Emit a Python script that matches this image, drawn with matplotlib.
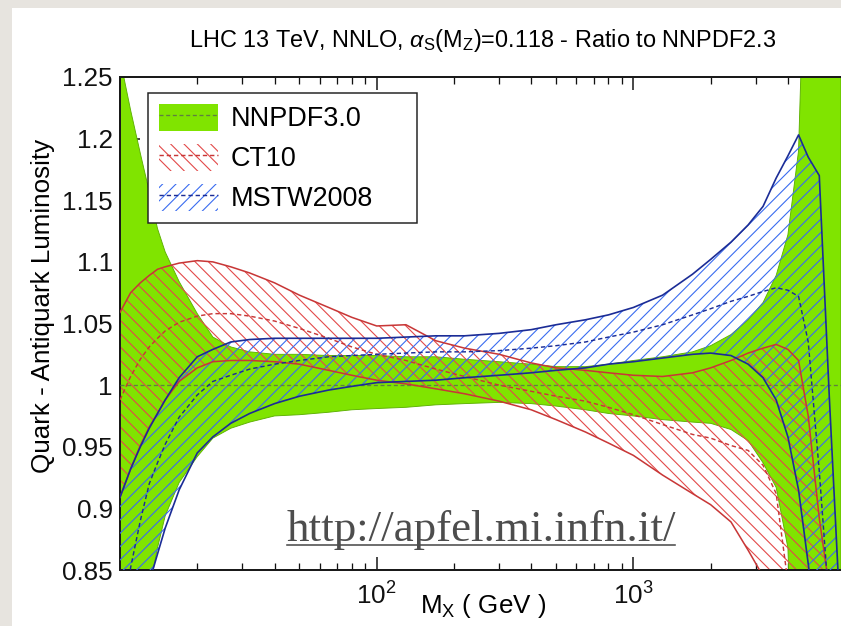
import numpy as np
import matplotlib
matplotlib.use("Agg")
import matplotlib.pyplot as plt
from matplotlib.patches import Patch, Rectangle
from matplotlib.lines import Line2D
from matplotlib.ticker import FixedLocator, LogLocator, NullFormatter

DPI = 80
PT = 72.0 / DPI   # points per pixel

plt.rcParams['font.family'] = ['Liberation Sans', 'DejaVu Sans']
plt.rcParams['mathtext.fontset'] = 'custom'
plt.rcParams['mathtext.rm'] = 'Liberation Sans'
plt.rcParams['mathtext.it'] = 'Liberation Sans:italic'
plt.rcParams['mathtext.bf'] = 'Liberation Sans:bold'
plt.rcParams['hatch.linewidth'] = 1.0

# invariant mass M_X (GeV)
mass = [10, 11, 12, 13, 14, 15, 17, 20, 23, 27,
        32, 40, 50, 65, 80, 100, 130, 170, 220, 300,
        400, 500, 650, 800, 1000, 1300, 1700, 2000, 2400, 2800,
        3200, 3600, 4000, 4400, 4800, 5300, 5800, 6440]

# NNPDF3.0 band
nn_up = [1.265, 1.223, 1.188, 1.157, 1.127, 1.108, 1.084, 1.058, 1.039, 1.031,
         1.027, 1.025, 1.025, 1.024, 1.024, 1.024, 1.023, 1.023, 1.021, 1.019,
         1.017, 1.015, 1.015, 1.017, 1.020, 1.023, 1.027, 1.032, 1.041, 1.053,
         1.067, 1.089, 1.122, 1.19, 1.45, 1.5, 1.5, 1.5]
nn_lo = [0.72, 0.759, 0.799, 0.834, 0.868, 0.894, 0.921, 0.942, 0.957, 0.965,
         0.970, 0.975, 0.976, 0.978, 0.980, 0.981, 0.982, 0.984, 0.985, 0.986,
         0.985, 0.983, 0.980, 0.977, 0.975, 0.972, 0.970, 0.969, 0.964, 0.955,
         0.937, 0.917, 0.868, 0.6, 0.5, 0.5, 0.5, 0.5]
nn_mid_mass = [10, 6440]
nn_mid = [1.0, 1.0]

# CT10 band (ends at 5800 GeV)
ct_mass = mass[:-1]
ct_up = [1.059, 1.075, 1.083, 1.089, 1.094, 1.096, 1.099, 1.101, 1.100, 1.096,
         1.091, 1.083, 1.073, 1.063, 1.055, 1.048, 1.049, 1.036, 1.030, 1.025,
         1.018, 1.014, 1.012, 1.010, 1.008, 1.007, 1.010, 1.014, 1.020, 1.026,
         1.030, 1.033, 1.029, 1.020, 0.975, 0.892, 0.835]
ct_lo = [0.909, 0.932, 0.951, 0.966, 0.977, 0.988, 1.003, 1.014, 1.019, 1.020,
         1.020, 1.019, 1.017, 1.012, 1.008, 1.004, 1.001, 0.997, 0.993, 0.987,
         0.980, 0.972, 0.962, 0.953, 0.943, 0.927, 0.912, 0.903, 0.889, 0.866,
         0.845, 0.82, 0.80, 0.78, 0.76, 0.74, 0.72]
ct_mid = [0.988, 1.007, 1.021, 1.031, 1.038, 1.044, 1.051, 1.056, 1.058, 1.058,
          1.056, 1.052, 1.046, 1.038, 1.031, 1.025, 1.020, 1.013, 1.007, 1.000,
          0.995, 0.991, 0.987, 0.982, 0.976, 0.968, 0.960, 0.957, 0.951, 0.947,
          0.935, 0.912, 0.84, 0.80, 0.78, 0.76, 0.74]

# MSTW2008 band
ms_up = [0.909, 0.932, 0.950, 0.965, 0.977, 0.988, 1.006, 1.023, 1.029, 1.035,
         1.037, 1.038, 1.038, 1.038, 1.038, 1.038, 1.039, 1.040, 1.040, 1.042,
         1.045, 1.049, 1.053, 1.057, 1.063, 1.073, 1.090, 1.102, 1.116, 1.130,
         1.145, 1.168, 1.186, 1.203, 1.185, 1.170, 0.99, 0.80]
ms_lo = [0.72, 0.78, 0.815, 0.84, 0.863, 0.884, 0.915, 0.945, 0.958, 0.969,
         0.977, 0.985, 0.991, 0.996, 0.999, 1.002, 1.003, 1.004, 1.006, 1.008,
         1.010, 1.012, 1.014, 1.017, 1.019, 1.022, 1.025, 1.026, 1.024, 1.017,
         1.006, 0.988, 0.958, 0.915, 0.855, 0.78, 0.74, 0.70]
ms_mid = [0.78, 0.852, 0.89, 0.92, 0.937, 0.952, 0.974, 0.992, 1.003, 1.008,
          1.013, 1.017, 1.020, 1.023, 1.024, 1.025, 1.026, 1.027, 1.027, 1.028,
          1.030, 1.032, 1.035, 1.039, 1.043, 1.049, 1.057, 1.062, 1.068, 1.072,
          1.076, 1.079, 1.077, 1.072, 1.035, 0.93, 0.82, 0.75]

ytick_vals = [0.85, 0.9, 0.95, 1.0, 1.05, 1.1, 1.15, 1.2, 1.25]
ytick_labels = ['0.85', '0.9', '0.95', '1', '1.05', '1.1', '1.15', '1.2', '1.25']
xtick_vals = [100, 1000]
xtick_labels = [r'$10^{2}$', r'$10^{3}$']
labels = ['NNPDF3.0', 'CT10', 'MSTW2008']

green = '#80e400'
green_edge = '#5cb000'
green_dash = '#5f8040'
red_hatch = '#e24a4a'
red_line = '#c83737'
blue_hatch = '#3a6cf0'
blue_line = '#1b2c96'
dash = (0, (3, 2))

fig = plt.figure(figsize=(841 / DPI, 626 / DPI), dpi=DPI, facecolor='#e7e4df')
fig.add_artist(Rectangle((12 / 841, 0), 1 - 12 / 841, 618 / 626, transform=fig.transFigure,
                         facecolor='white', edgecolor='none', zorder=-5))
ax = fig.add_axes([120 / 841, 56 / 626, 721 / 841, 493 / 626])

ax.fill_between(mass, nn_lo, nn_up, facecolor=green, edgecolor=green_edge, linewidth=0.8, zorder=1)
ax.fill_between(ct_mass, ct_lo, ct_up, facecolor='none', edgecolor=red_hatch, hatch='\\\\',
                linewidth=0, zorder=2)
ax.fill_between(mass, ms_lo, ms_up, facecolor='none', edgecolor=blue_hatch, hatch='//',
                linewidth=0, zorder=3)

ax.plot(nn_mid_mass, nn_mid, color=green_dash, lw=1.2, ls=dash, zorder=4)
ax.plot(ct_mass, ct_up, color=red_line, lw=1.4, zorder=5)
ax.plot(ct_mass, ct_lo, color=red_line, lw=1.4, zorder=5)
ax.plot(ct_mass, ct_mid, color=red_line, lw=1.3, ls=dash, zorder=5)
ax.plot(mass, ms_up, color=blue_line, lw=1.5, zorder=6)
ax.plot(mass, ms_lo, color=blue_line, lw=1.5, zorder=6)
ax.plot(mass, ms_mid, color=blue_line, lw=1.3, ls=dash, zorder=6)

ax.set_xscale('log')
ax.set_xlim(10, 6440)
ax.set_ylim(0.85, 1.25)
ax.set_yticks(ytick_vals)
ax.set_yticklabels(ytick_labels)
ax.xaxis.set_major_locator(FixedLocator(xtick_vals))
ax.set_xticklabels(xtick_labels)
ax.xaxis.set_minor_locator(LogLocator(base=10, subs=np.arange(2, 10)))
ax.xaxis.set_minor_formatter(NullFormatter())
ax.set_axisbelow(True)
ax.tick_params(axis='x', which='major', direction='in', length=13 * PT, width=1.5 * PT,
               top=True, labelsize=26 * PT, pad=12 * PT, colors='#111')
ax.tick_params(axis='x', which='minor', direction='in', length=7 * PT, width=1.3 * PT, top=True,
               colors='#111')
ax.tick_params(axis='y', which='major', direction='in', length=20 * PT, width=1.5 * PT,
               labelsize=26 * PT, pad=7 * PT, colors='#111')
for side in ['left', 'top', 'bottom']:
    ax.spines[side].set_linewidth(2 * PT)
    ax.spines[side].set_color('#1a1a1a')
ax.spines['right'].set_visible(False)

ax.set_ylabel('Quark - Antiquark Luminosity', fontsize=26 * PT, va='center')
ax.yaxis.set_label_coords(-77 / 721, 264 / 493)
ax.set_xlabel(r'M$_{\rm X}$ ( GeV )', fontsize=26 * PT, va='baseline')
ax.xaxis.set_label_coords(363 / 721, -43 / 493)
ax.set_title(r'LHC 13 TeV, NNLO, $\alpha_{\rm S}$(M$_{\rm Z}$)=0.118 - Ratio to NNPDF2.3',
             fontsize=23.5 * PT, pad=30 * PT, x=363 / 721)

handles = [
    (Patch(facecolor=green, edgecolor='none'), Line2D([], [], color=green_dash, lw=1.2, ls=dash)),
    (Patch(facecolor='none', edgecolor=red_hatch, hatch='\\\\', linewidth=0),
     Line2D([], [], color=red_line, lw=1.3, ls=dash)),
    (Patch(facecolor='none', edgecolor=blue_hatch, hatch='//', linewidth=0),
     Line2D([], [], color=blue_line, lw=1.3, ls=dash)),
]
leg = ax.legend(handles, labels, loc='upper left',
                bbox_to_anchor=(28 / 721, 477 / 493 - 0.3, 269 / 721, 0.3), mode='expand',
                borderaxespad=0, fontsize=27 * PT, frameon=True, fancybox=False,
                edgecolor='#222', framealpha=1, handlelength=59 / 27, handleheight=31 / 27,
                handletextpad=13 / 27, labelspacing=11.5 / 27, borderpad=0.4)
leg.get_frame().set_linewidth(1.5 * PT)
leg.set_zorder(10)

fig.text(287 / 841, 1 - 541 / 626, 'http://apfel.mi.infn.it/', family=['Liberation Serif', 'DejaVu Serif'],
         fontsize=45 * PT, color='#4d4d4d', ha='left', va='baseline', zorder=20)
fig.add_artist(Line2D([287 / 841, 675 / 841], [1 - 545 / 626] * 2, color='#4d4d4d', lw=1.6 * PT,
                      transform=fig.transFigure, zorder=20))

fig.savefig('out.png', dpi=DPI, facecolor=fig.get_facecolor())
